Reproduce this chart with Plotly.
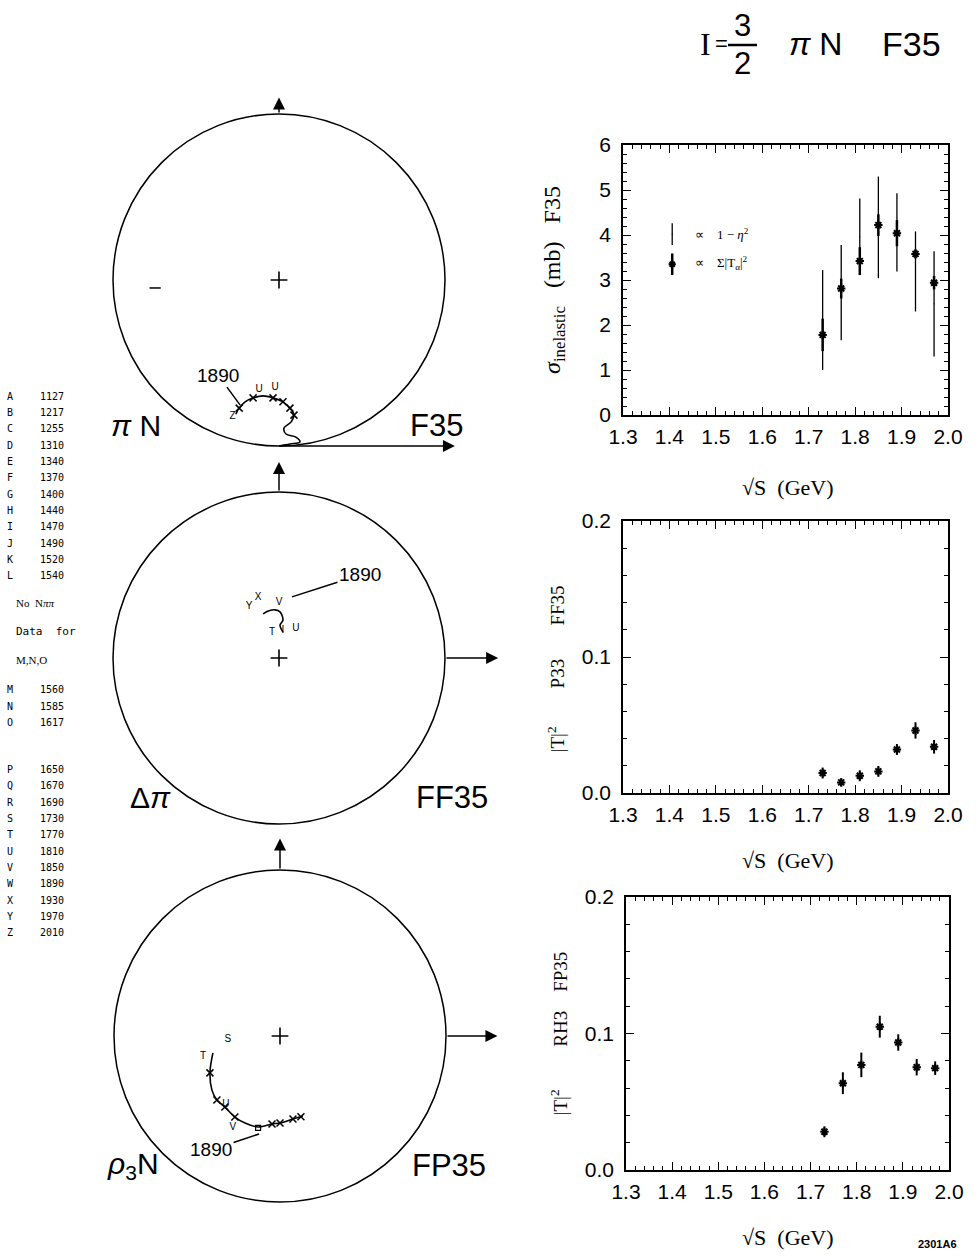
import plotly.graph_objects as go

W, H = 979, 1256

# ---------------- data ----------------
sqrt_s = [1.73, 1.77, 1.81, 1.85, 1.89, 1.93, 1.97]

# panel 1 : sigma_inelastic (mb) F35
sig_eta = [2.11, 2.72, 3.96, 4.17, 4.06, 3.19, 2.47]          # proportional to 1 - eta^2
sig_eta_err = [1.11, 1.06, 0.85, 1.13, 0.87, 0.89, 1.17]
sig_T = [1.78, 2.81, 3.42, 4.22, 4.04, 3.58, 2.94]            # proportional to sum |T|^2
sig_T_err = [0.36, 0.22, 0.31, 0.24, 0.29, 0.10, 0.15]

# legend samples inside panel 1
leg_x = [1.406]
leg_eta_y = [4.02]
leg_eta_err = [0.24]
leg_T_y = [3.35]
leg_T_err = [0.24]

# panel 2 : |T|^2  P33 FF35
p33 = [0.0147, 0.0078, 0.0127, 0.0159, 0.032, 0.046, 0.034]
p33_err = [0.004, 0.003, 0.004, 0.004, 0.004, 0.006, 0.005]

# panel 3 : |T|^2  RH3 FP35
rh3 = [0.028, 0.0636, 0.077, 0.105, 0.0934, 0.0753, 0.0746]
rh3_err = [0.004, 0.008, 0.009, 0.008, 0.006, 0.006, 0.005]

x_ticks = [1.3, 1.4, 1.5, 1.6, 1.7, 1.8, 1.9, 2.0]
x_ticklabels = ["1.3", "1.4", "1.5", "1.6", "1.7", "1.8", "1.9", "2.0"]
y1_ticks = [0, 1, 2, 3, 4, 5, 6]
y23_ticks = [0.0, 0.1, 0.2]
y23_ticklabels = ["0.0", "0.1", "0.2"]

# Argand diagrams (Re, Im)
piN_re = [0.0, 0.033, 0.063, 0.051, 0.021, 0.015, 0.036, 0.045, 0.033, 0.012,
          -0.018, -0.048, -0.078, -0.102, -0.120, -0.130]
piN_im = [0.0, 0.006, 0.012, 0.027, 0.036, 0.054, 0.072, 0.093, 0.114, 0.133,
          0.145, 0.151, 0.145, 0.133, 0.114, 0.096]
piN_tick_re = [0.045, 0.033, 0.012, -0.018, -0.078, -0.120]
piN_tick_im = [0.093, 0.114, 0.133, 0.145, 0.145, 0.114]
piN_lbl = ["U", "U", "Z"]
piN_lbl_re = [-0.060, -0.012, -0.140]
piN_lbl_im = [0.170, 0.175, 0.090]
piN_dash_re = [-0.373]
piN_dash_im = [0.476]

dpi_re = [0.012, 0.003, 0.012, 0.003, -0.012, -0.030, -0.048]
dpi_im = [0.078, 0.099, 0.114, 0.139, 0.145, 0.142, 0.133]
dpi_lbl = ["X", "Y", "V", "T", "I", "U"]
dpi_lbl_re = [-0.063, -0.090, 0.000, -0.021, 0.012, 0.051]
dpi_lbl_im = [0.181, 0.154, 0.166, 0.078, 0.084, 0.090]

rho_re = [-0.202, -0.211, -0.205, -0.190, -0.166, -0.136, -0.105, -0.066,
          -0.024, 0.0, 0.039, 0.069]
rho_im = [-0.051, -0.111, -0.163, -0.193, -0.214, -0.244, -0.262, -0.274,
          -0.265, -0.262, -0.250, -0.241]
rho_tick_re = [-0.211, -0.190, -0.166, -0.136, -0.024, 0.0, 0.039, 0.063]
rho_tick_im = [-0.111, -0.193, -0.214, -0.244, -0.265, -0.262, -0.250, -0.243]
rho_lbl = ["S", "T", "U", "V"]
rho_lbl_re = [-0.157, -0.232, -0.163, -0.142]
rho_lbl_im = [-0.012, -0.063, -0.205, -0.275]
rho_mark_re = [-0.066]
rho_mark_im = [-0.277]

# mass table
letters1 = ["A", "B", "C", "D", "E", "F", "G", "H", "I", "J", "K", "L"]
masses1 = ["1127", "1217", "1255", "1310", "1340", "1370", "1400", "1440",
           "1470", "1490", "1520", "1540"]
letters2 = ["M", "N", "O"]
masses2 = ["1560", "1585", "1617"]
letters3 = ["P", "Q", "R", "S", "T", "U", "V", "W", "X", "Y", "Z"]
masses3 = ["1650", "1670", "1690", "1730", "1770", "1810", "1850", "1890",
           "1930", "1970", "2010"]

# ---------------- helpers ----------------
def dx(p0, p1):
    return [p0 / W, p1 / W]

def dy(top, bottom):
    return [1 - bottom / H, 1 - top / H]

fig = go.Figure()
BLACK = "black"
SANS = "Liberation Sans, Arial, sans-serif"
SERIF = "Liberation Serif, Times New Roman, serif"
MONO = "DejaVu Sans Mono, monospace"
NB = "\u00a0"
PAD = "<span style='color:white'>.</span>"

# ---- panel 1 ----
fig.add_trace(go.Scatter(x=sqrt_s, y=sig_eta, mode="markers", xaxis="x", yaxis="y",
                         marker=dict(size=1, color=BLACK),
                         error_y=dict(type="data", array=sig_eta_err, width=0,
                                      thickness=1.3, color=BLACK)))
fig.add_trace(go.Scatter(x=sqrt_s, y=sig_T, mode="markers", xaxis="x", yaxis="y",
                         marker=dict(symbol="asterisk-open", size=7, color=BLACK,
                                     line=dict(width=2, color=BLACK)),
                         error_y=dict(type="data", array=sig_T_err, width=0,
                                      thickness=2.5, color=BLACK)))
fig.add_trace(go.Scatter(x=leg_x, y=leg_eta_y, mode="markers", xaxis="x", yaxis="y",
                         marker=dict(size=1, color=BLACK),
                         error_y=dict(type="data", array=leg_eta_err, width=0,
                                      thickness=1.3, color=BLACK)))
fig.add_trace(go.Scatter(x=leg_x, y=leg_T_y, mode="markers", xaxis="x", yaxis="y",
                         marker=dict(symbol="asterisk-open", size=6, color=BLACK,
                                     line=dict(width=2, color=BLACK)),
                         error_y=dict(type="data", array=leg_T_err, width=0,
                                      thickness=2.5, color=BLACK)))

# ---- panel 2 ----
fig.add_trace(go.Scatter(x=sqrt_s, y=p33, mode="markers", xaxis="x2", yaxis="y2",
                         marker=dict(symbol="asterisk-open", size=7, color=BLACK,
                                     line=dict(width=2, color=BLACK)),
                         error_y=dict(type="data", array=p33_err, width=0,
                                      thickness=2, color=BLACK)))
# ---- panel 3 ----
fig.add_trace(go.Scatter(x=sqrt_s, y=rh3, mode="markers", xaxis="x3", yaxis="y3",
                         marker=dict(symbol="asterisk-open", size=7, color=BLACK,
                                     line=dict(width=2, color=BLACK)),
                         error_y=dict(type="data", array=rh3_err, width=0,
                                      thickness=2, color=BLACK)))

# ---- Argand diagrams ----
def argand(xa, ya, re, im, tre, tim, lbl, lre, lim):
    fig.add_trace(go.Scatter(x=re, y=im, mode="lines", xaxis=xa, yaxis=ya,
                             line=dict(color=BLACK, width=1.6, shape="spline")))
    if tre:
        fig.add_trace(go.Scatter(x=tre, y=tim, mode="markers", xaxis=xa, yaxis=ya,
                                 marker=dict(symbol="x-thin", size=7, color=BLACK,
                                             line=dict(width=1.5, color=BLACK))))
    fig.add_trace(go.Scatter(x=lre, y=lim, mode="text", text=lbl, xaxis=xa, yaxis=ya,
                             textfont=dict(family=SANS, size=10, color=BLACK)))

argand("x4", "y4", piN_re, piN_im, piN_tick_re, piN_tick_im, piN_lbl, piN_lbl_re, piN_lbl_im)
argand("x5", "y5", dpi_re, dpi_im, [], [], dpi_lbl, dpi_lbl_re, dpi_lbl_im)
argand("x6", "y6", rho_re, rho_im, rho_tick_re, rho_tick_im, rho_lbl, rho_lbl_re, rho_lbl_im)
fig.add_trace(go.Scatter(x=piN_dash_re, y=piN_dash_im, mode="markers", xaxis="x4", yaxis="y4",
                         marker=dict(symbol="line-ew", size=8, color=BLACK,
                                     line=dict(width=1.5, color=BLACK))))
fig.add_trace(go.Scatter(x=rho_mark_re, y=rho_mark_im, mode="markers", xaxis="x6", yaxis="y6",
                         marker=dict(symbol="square-open", size=5, color=BLACK,
                                     line=dict(width=1.2, color=BLACK))))
# centre crosses
for xa, ya, cy in [("x4", "y4", 0.5), ("x5", "y5", 0.0), ("x6", "y6", 0.0)]:
    fig.add_trace(go.Scatter(x=[0.0], y=[cy], mode="markers", xaxis=xa, yaxis=ya,
                             marker=dict(symbol="cross-thin", size=12, color=BLACK,
                                         line=dict(width=1.6, color=BLACK))))

shapes = []
shapes.append(dict(type="circle", xref="x4", yref="y4", x0=-0.5, x1=0.5, y0=0, y1=1,
                   line=dict(color=BLACK, width=1.5)))
shapes.append(dict(type="circle", xref="x5", yref="y5", x0=-0.5, x1=0.5, y0=-0.5, y1=0.5,
                   line=dict(color=BLACK, width=1.5)))
shapes.append(dict(type="circle", xref="x6", yref="y6", x0=-0.5, x1=0.5, y0=-0.5, y1=0.5,
                   line=dict(color=BLACK, width=1.5)))
# fraction bar in title
shapes.append(dict(type="line", xref="paper", yref="paper",
                   x0=728 / W, x1=757 / W, y0=1 - 45 / H, y1=1 - 45 / H,
                   line=dict(color=BLACK, width=2.5)))

ann = []
def arrow(xa, ya, x0, y0, x1, y1):
    ann.append(dict(xref=xa, yref=ya, axref=xa, ayref=ya, x=x1, y=y1, ax=x0, ay=y0,
                    text="", showarrow=True, arrowhead=2, arrowsize=1.6,
                    arrowwidth=1.5, arrowcolor=BLACK))

arrow("x4", "y4", 0, 1.0, 0, 1.05)
arrow("x4", "y4", 0, 0.0, 0.53, 0.0)
arrow("x5", "y5", 0, 0.5, 0, 0.59)
arrow("x5", "y5", 0.5, 0.0, 0.66, 0.0)
arrow("x6", "y6", 0, 0.5, 0, 0.595)
arrow("x6", "y6", 0.5, 0.0, 0.655, 0.0)

def lab1890(xa, ya, x, y, axp, ayp):
    ann.append(dict(xref=xa, yref=ya, x=x, y=y, ax=axp, ay=ayp, text="1890",
                    showarrow=True, arrowhead=0, arrowwidth=1.5, arrowcolor=BLACK,
                    font=dict(family=SANS, size=19, color=BLACK)))

lab1890("x4", "y4", -0.117, 0.123, -22, -30)
lab1890("x5", "y5", 0.039, 0.184, 68, -22)
lab1890("x6", "y6", -0.063, -0.295, -48, 16)

def ptxt(x, y, text, size, family=SANS, anchor="center"):
    ann.append(dict(xref="paper", yref="paper", x=x / W, y=1 - y / H, text=text,
                    showarrow=False, xanchor=anchor, yanchor="middle",
                    font=dict(family=family, size=size, color=BLACK)))

# circle labels
ptxt(136, 425, "<i>π</i> N", 30)
ptxt(436, 425, "F35", 31)
ptxt(150, 797, "Δ<i>π</i>", 30)
ptxt(452, 797, "FF35", 31)
ptxt(133, 1165, "<i>ρ</i><sub>3</sub>N", 30)
ptxt(449, 1165, "FP35", 31)

# title
ptxt(705, 44, "I", 32, family=SERIF)
ptxt(721, 44, "=", 22)
ptxt(742, 25, "3", 31)
ptxt(742, 64, "2", 31)
ptxt(815, 44, "<i>π</i> N", 32)
ptxt(911, 44, "F35", 34)
ptxt(937, 1244, "<b>2301A6</b>", 11)

# legend texts in panel 1
ann.append(dict(xref="x", yref="y", x=1.45, y=4.02, text="∝" + NB * 4 + "1 − <i>η</i><sup>2</sup>",
                showarrow=False, xanchor="left", font=dict(family=SERIF, size=13, color=BLACK)))
ann.append(dict(xref="x", yref="y", x=1.45, y=3.37, text="∝" + NB * 4 + "Σ|T<sub>α</sub>|<sup>2</sup>",
                showarrow=False, xanchor="left", font=dict(family=SERIF, size=13, color=BLACK)))

# x titles
for yy in [487, 860, 1237]:
    ptxt(788, yy, "√S" + NB * 2 + "(GeV)", 22, family=SERIF)

# mass table
unit = 16.36
ytab = 396
for l, m in zip(letters1, masses1):
    ptxt(5, ytab, l, 10, family=MONO, anchor="left")
    ptxt(38, ytab, m, 10, family=MONO, anchor="left")
    ytab += unit
ytab += (1.65 - 1) * unit
ptxt(14, ytab, "No" + NB * 2 + "N<i>ππ</i>", 11, family=SERIF, anchor="left"); ytab += 1.72 * unit
ptxt(14, ytab, "Data" + NB * 2 + "for", 11, family=MONO, anchor="left"); ytab += 1.76 * unit
ptxt(14, ytab, "M,N,O", 11, family=SERIF, anchor="left"); ytab += 1.83 * unit
for l, m in zip(letters2, masses2):
    ptxt(5, ytab, l, 10, family=MONO, anchor="left")
    ptxt(38, ytab, m, 10, family=MONO, anchor="left")
    ytab += unit
ytab += (2.86 - 1) * unit
for l, m in zip(letters3, masses3):
    ptxt(5, ytab, l, 10, family=MONO, anchor="left")
    ptxt(38, ytab, m, 10, family=MONO, anchor="left")
    ytab += unit

# ---------------- axes ----------------
def xax(domain, anchor):
    return dict(domain=domain, anchor=anchor, range=[1.3, 2.0], tickmode="array",
                tickvals=x_ticks, ticktext=x_ticklabels, ticks="inside", ticklen=8,
                tickwidth=1.3, tickcolor=BLACK, showline=True, linecolor=BLACK,
                linewidth=1.5, mirror="ticks", showgrid=False, zeroline=False,
                automargin=False, ticklabelstandoff=2,
                minor=dict(dtick=0.02, ticks="inside", ticklen=4, tickcolor=BLACK,
                           showgrid=False),
                tickfont=dict(family=SANS, size=21, color=BLACK))

def yax(domain, anchor, rng, tv, tt, dmin, title, tsize, standoff):
    return dict(domain=domain, anchor=anchor, range=rng, tickmode="array",
                tickvals=tv, ticktext=tt, ticks="inside", ticklen=8, tickwidth=1.3,
                tickcolor=BLACK, showline=True, linecolor=BLACK, linewidth=1.5,
                mirror="ticks", showgrid=False, zeroline=False, automargin=False,
                ticklabelstandoff=6,
                minor=dict(dtick=dmin, ticks="inside", ticklen=4, tickcolor=BLACK,
                           showgrid=False),
                tickfont=dict(family=SANS, size=21, color=BLACK),
                title=dict(text=title, standoff=standoff,
                           font=dict(family=SERIF, size=tsize, color=BLACK)))

def hidden(domain, rng, anchor):
    return dict(domain=domain, range=rng, anchor=anchor, visible=False,
                showgrid=False, zeroline=False, fixedrange=True, automargin=False)

title1 = "<i>σ</i><sub>inelastic</sub>" + NB * 3 + "(mb)" + NB * 3 + "F35"
title2 = "|T|<sup>2</sup>" + NB * 8 + "P33" + NB * 7 + "FF35" + NB * 4 + PAD
title3 = "|T|<sup>2</sup>" + NB * 9 + "RH3" + NB * 4 + "FP35"

layout = dict(
    template="none",
    width=W, height=H, margin=dict(l=0, r=0, t=0, b=0, pad=0, autoexpand=False),
    paper_bgcolor="white", plot_bgcolor="rgba(0,0,0,0)", showlegend=False,
    xaxis=xax(dx(623, 948), "y"),
    yaxis=yax(dy(145, 415), "x", [0, 6], y1_ticks, [str(v) for v in y1_ticks], 0.2,
              title1, 24, 32),
    xaxis2=xax(dx(623, 948), "y2"),
    yaxis2=yax(dy(521, 793), "x2", [0, 0.2], y23_ticks, y23_ticklabels, 0.02,
               title2, 19, 12),
    xaxis3=xax(dx(626, 949), "y3"),
    yaxis3=yax(dy(897, 1170), "x3", [0, 0.2], y23_ticks, y23_ticklabels, 0.02,
               title3, 19, 12),
    xaxis4=hidden(dx(90, 520), [(90 - 279) / 332, (520 - 279) / 332], "y4"),
    yaxis4=hidden(dy(70, 470), [(446 - 470) / 332, (446 - 70) / 332], "x4"),
    xaxis5=hidden(dx(90, 520), [(90 - 279) / 332, (520 - 279) / 332], "y5"),
    yaxis5=hidden(dy(440, 850), [(658 - 850) / 332, (658 - 440) / 332], "x5"),
    xaxis6=hidden(dx(90, 520), [(90 - 280) / 332, (520 - 280) / 332], "y6"),
    yaxis6=hidden(dy(820, 1240), [(1036 - 1240) / 332, (1036 - 820) / 332], "x6"),
    shapes=shapes, annotations=ann,
)
fig.update_layout(**layout)
fig.write_html("out.html", config={"displayModeBar": False},
               post_script="document.body.style.margin='0px';document.body.style.padding='0px';")
